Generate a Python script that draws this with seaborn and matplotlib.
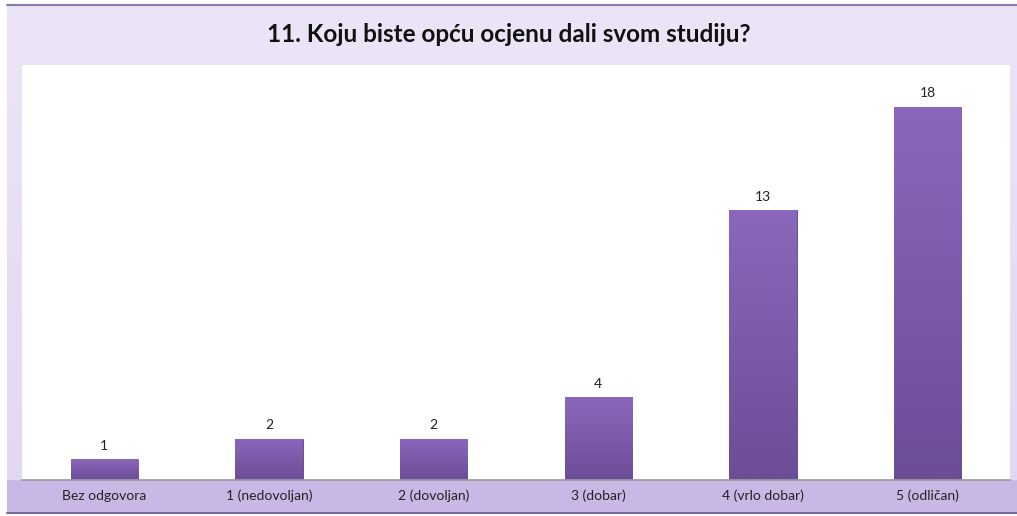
import numpy as np
import matplotlib.pyplot as plt
import seaborn as sns
from matplotlib.patches import Rectangle
from matplotlib.colors import LinearSegmentedColormap

categories = ["Bez odgovora", "1 (nedovoljan)", "2 (dovoljan)", "3 (dobar)",
              "4 (vrlo dobar)", "5 (odličan)"]
counts = [1, 2, 2, 4, 13, 18]
title = "11. Koju biste opću ocjenu dali svom studiju?"

sns.set_style("white")
plt.rcParams["font.family"] = ["Lato", "DejaVu Sans"]

W, H = 1017, 516
fig = plt.figure(figsize=(W / 100, H / 100), dpi=100)
fig.patch.set_facecolor("white")

# panel background (light lavender gradient) drawn in figure pixels
bg = fig.add_axes([0, 0, 1, 1], zorder=-5)
bg.set_axis_off()
bg.set_xlim(0, W)
bg.set_ylim(H, 0)
grad = np.linspace(0, 1, 256).reshape(-1, 1)
bg_cmap = LinearSegmentedColormap.from_list("bg", ["#ece5f7", "#e2d7f1"])
bg.imshow(grad, aspect="auto", cmap=bg_cmap, extent=[7, W, 513, 5], origin="upper")
bg.plot([7, W], [5, 5], color="#8a78a8", lw=1.5)
# category band at the bottom
bg.add_patch(Rectangle((7, 480), W - 7, 33, facecolor="#c9b7e5", edgecolor="none"))
bg.plot([7, W], [513, 513], color="#7a6a9a", lw=1.5)

ax = fig.add_axes([22 / W, (H - 480) / H, 988 / W, 415 / H])
ax.set_facecolor("white")
sns.barplot(x=categories, y=counts, color="#7a58a8", saturation=1, width=0.41,
            edgecolor="#5e4187", linewidth=0.6, ax=ax)

# vertical gradient on each bar
bar_cmap = LinearSegmentedColormap.from_list("bar", ["#8a67bc", "#6c4d97"])
for p in ax.patches:
    x0, y0 = p.get_x(), p.get_y()
    w, h = p.get_width(), p.get_height()
    im = ax.imshow(grad, aspect="auto", cmap=bar_cmap,
                   extent=[x0, x0 + w, y0, y0 + h], origin="upper", zorder=2)
    im.set_clip_path(p)

for i, v in enumerate(counts):
    ax.text(i, v + 0.35, str(v), ha="center", va="bottom", fontsize=10, color="#222222")

ax.set_xlim(-0.5, 5.5)
ax.set_ylim(0, 20)
ax.set_yticks([])
ax.set_xlabel("")
ax.set_ylabel("")
ax.tick_params(axis="x", length=0, pad=7, labelsize=10, labelcolor="#222222")
for s in ["left", "right", "top"]:
    ax.spines[s].set_visible(False)
ax.spines["bottom"].set_color("#9a9a9a")
ax.spines["bottom"].set_linewidth(1.2)

fig.text(0.5, 1 - 35 / H, title, ha="center", va="center", fontsize=17.5,
         fontweight="bold", color="#111111")

fig.savefig("out.png", dpi=100)
